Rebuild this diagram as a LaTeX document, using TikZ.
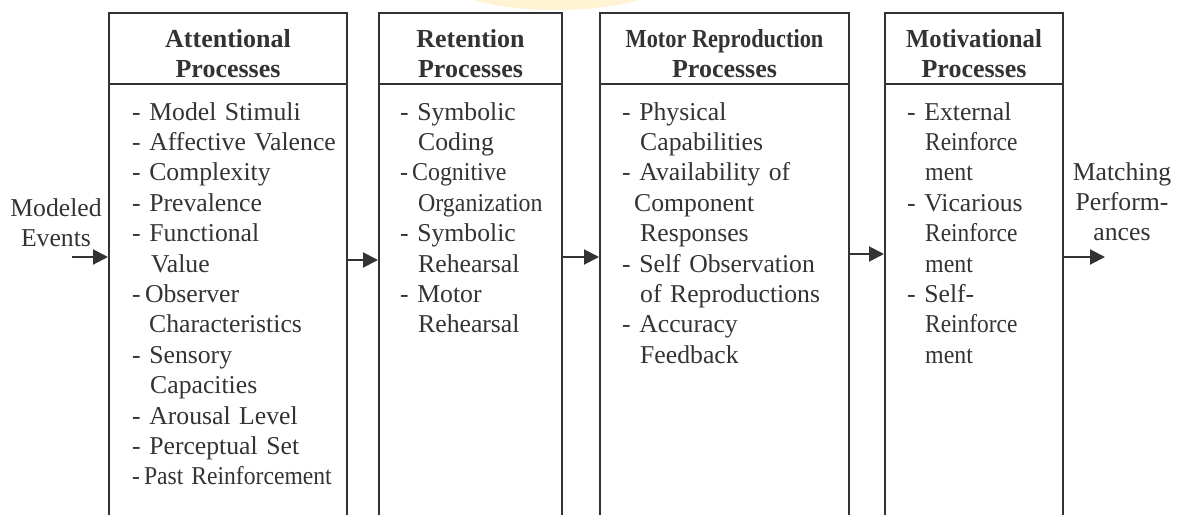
\documentclass[tikz,border=0pt]{standalone}
\usepackage{fontspec}
\setmainfont{Liberation Serif}
\usetikzlibrary{arrows.meta}
\definecolor{ink}{HTML}{333333}
\definecolor{glow}{HTML}{FFF3D4}

\begin{document}
\begin{tikzpicture}[x=1pt,y=-1pt,
  stage/.style={minimum width=#1, minimum height=503pt, inner sep=0pt, outer sep=0pt},
  frame/.style={draw=ink, line width=2pt, line join=miter},
  head/.style={font=\fontsize{26}{30}\selectfont\bfseries, align=center, text=ink, inner sep=0pt},
  body/.style={font=\fontsize{25.7}{30.4}\selectfont, align=left, text width=240pt,
               text=ink, inner sep=0pt, anchor=base west},
  side/.style={font=\fontsize{25.7}{30.4}\selectfont, align=center, text width=110pt,
               text=ink, inner sep=0pt, anchor=base},
  flow/.style={draw=ink, line width=2pt, -{Triangle[length=15pt,width=15pt]},
               shorten >=1pt}
]
\useasboundingbox (0,0) rectangle (1185,514);

% faint seal at the top edge
\fill[glow] (556,-26) ellipse [x radius=120, y radius=36];

% the four stages, open at the bottom
\node[stage=238pt] (s1) at (228,264.5) {};
\node[stage=183pt] (s2) at (470.5,264.5) {};
\node[stage=249pt] (s3) at (724.5,264.5) {};
\node[stage=178pt] (s4) at (974,264.5) {};

\foreach \s in {s1,s2,s3,s4}{
  \draw[frame] (\s.south west) -- (\s.north west) -- (\s.north east) -- (\s.south east);
  \draw[frame] (\s.west |- 0,84) -- (\s.east |- 0,84);
}

% stage titles
\node[head] (h1) at (s1.north |- 0,54) {Attentional\\Processes};
\node[head] (h2) at (s2.north |- 0,54) {Retention\\Processes};
\node[head] (h3) at (s3.north |- 0,54) {\scalebox{0.86}[1]{Motor Reproduction}\\Processes};
\node[head] (h4) at (s4.north |- 0,54) {\scalebox{0.95}[1]{Motivational}\\Processes};

% stage contents
\node[body] (l1) at (132,120) {- Model Stimuli\\
- Affective Valence\\
- Complexity\\
- Prevalence\\
- Functional\\
\hspace*{19pt}Value\\
-\,Observer\\
\hspace*{17pt}Characteristics\\
- Sensory\\
\hspace*{18pt}Capacities\\
- Arousal Level\\
- Perceptual Set\\
\scalebox{0.92}[1]{-\,Past Reinforcement}};

\node[body] (l2) at (400,120) {- Symbolic\\
\hspace*{18pt}Coding\\
\scalebox{0.93}[1]{-\,Cognitive}\\
\hspace*{18pt}\scalebox{0.93}[1]{Organization}\\
- Symbolic\\
\hspace*{18pt}Rehearsal\\
- Motor\\
\hspace*{18pt}Rehearsal};

\node[body] (l3) at (622,120) {- Physical\\
\hspace*{18pt}Capabilities\\
- Availability of\\
\hspace*{12pt}Component\\
\hspace*{18pt}Responses\\
- Self Observation\\
\hspace*{18pt}of Reproductions\\
- Accuracy\\
\hspace*{18pt}Feedback};

\node[body] (l4) at (907,120) {- External\\
\hspace*{18pt}\scalebox{0.91}[1]{Reinforce}\\
\hspace*{18pt}\scalebox{0.93}[1]{ment}\\
- Vicarious\\
\hspace*{18pt}\scalebox{0.91}[1]{Reinforce}\\
\hspace*{18pt}\scalebox{0.93}[1]{ment}\\
- Self-\\
\hspace*{18pt}\scalebox{0.91}[1]{Reinforce}\\
\hspace*{18pt}\scalebox{0.93}[1]{ment}};

% input and output labels
\node[side] (src) at (56,216) {Modeled\\Events};
\node[side] (dst) at (1122,180) {Matching\\Perform-\\ances};

% flow between the stages
\coordinate (in) at (72,257);
\coordinate (out) at (1105,257);
\draw[flow] (in) -- (s1.west |- in);
\draw[flow] (s1.east |- 0,260) -- (s2.west |- 0,260);
\draw[flow] (s2.east |- 0,257) -- (s3.west |- 0,257);
\draw[flow] (s3.east |- 0,254) -- (s4.west |- 0,254);
\draw[flow, shorten >=0pt] (s4.east |- out) -- (out);
\end{tikzpicture}
\end{document}
